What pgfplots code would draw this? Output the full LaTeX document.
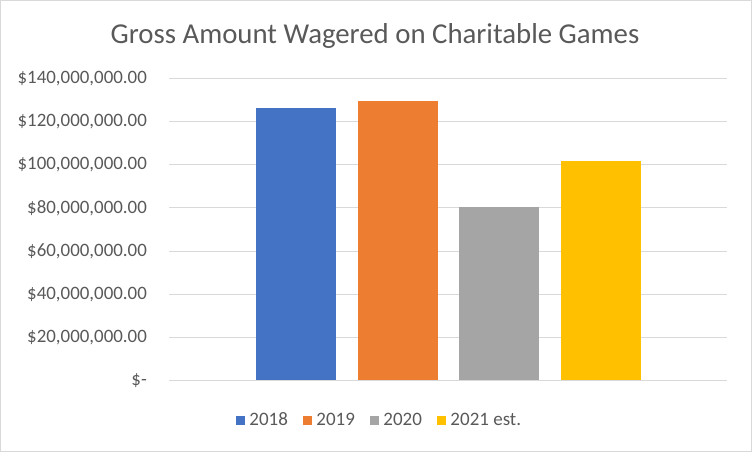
\documentclass[border=0pt]{standalone}
\usepackage{pgfplots}
\pgfplotsset{compat=1.18}
\usepackage{fontspec}
\setmainfont{Carlito}
\definecolor{c18}{HTML}{4472C4}
\definecolor{c19}{HTML}{ED7D31}
\definecolor{c20}{HTML}{A5A5A5}
\definecolor{c21}{HTML}{FFC000}
\definecolor{txt}{HTML}{595959}
\definecolor{grd}{HTML}{D9D9D9}
\begin{document}
\begin{tikzpicture}[x=1pt,y=1pt]
\path[use as bounding box] (0,0) rectangle (752,452);
\draw[grd, line width=1pt] (0.5,0.5) rectangle (751.5,451.5);
\node[anchor=base, text=txt, font=\fontsize{28.8}{33}\selectfont, inner sep=0pt] at (375,408.7) {Gross Amount Wagered on Charitable Games};
\begin{axis}[
  at={(169pt,71.5pt)}, anchor=south west,
  scale only axis, width=558pt, height=302pt,
  xmin=169, xmax=727, ymin=0, ymax=140e6,
  ybar, bar width=80, bar shift=0pt,
  axis line style={draw=none},
  major tick length=0pt,
  xtick=\empty,
  scaled y ticks=false,
  ytick={0,20e6,40e6,60e6,80e6,100e6,120e6,140e6},
  yticklabels={{\$-\hspace{9pt}},{\$20,000,000.00},{\$40,000,000.00},{\$60,000,000.00},{\$80,000,000.00},{\$100,000,000.00},{\$120,000,000.00},{\$140,000,000.00}},
  /pgf/number format/assume math mode=true,
  yticklabel style={anchor=east, inner sep=0pt, xshift=-22pt, text=txt, font=\fontsize{18.9}{22}\selectfont},
  ymajorgrids, grid style={draw=grd, line width=1pt},
  legend columns=4,
  legend style={draw=none, fill=none, at={(0.3755,-0.130)}, anchor=center,
    font=\fontsize{19}{22}\selectfont, text=txt,
    nodes={inner sep=0pt, anchor=base west},
    /tikz/every odd column/.append style={column sep=4pt},
    /tikz/every even column/.append style={column sep=15pt}},
  legend image code/.code={\fill[#1, draw=none] (0pt,0pt) rectangle (9.5pt,9.5pt);},
]
\addplot[fill=c18, draw=none] coordinates {(296,126.4e6)};
\addplot[fill=c19, draw=none] coordinates {(398,129.6e6)};
\addplot[fill=c20, draw=none] coordinates {(499,80.6e6)};
\addplot[fill=c21, draw=none] coordinates {(601,101.9e6)};
\legend{2018,2019,2020,2021 est.}
\end{axis}
\end{tikzpicture}
\end{document}
